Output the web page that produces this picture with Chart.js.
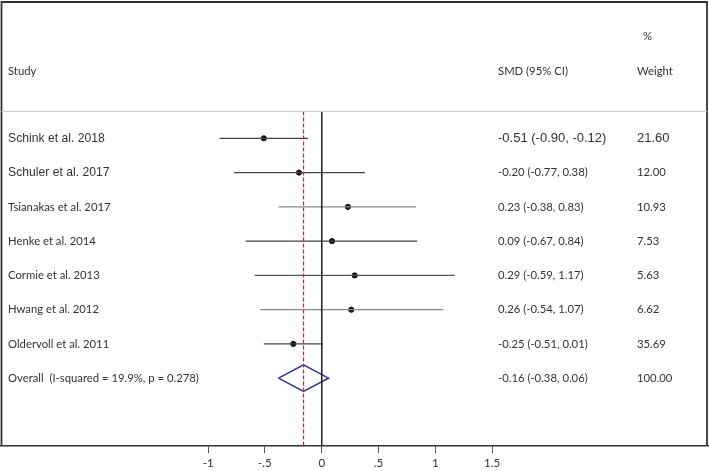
<!DOCTYPE html>
<html>
<head>
<meta charset="utf-8">
<script src="https://cdn.jsdelivr.net/npm/chart.js@4"></script>
<style>
  body { margin: 0; background: #fff; overflow: hidden; }
  canvas { display: block; }
</style>
</head>
<body>
<canvas id="forest" width="709" height="471"></canvas>
<script>
// ==================== DATA =====================
const studies = [
  "Schink et al. 2018",
  "Schuler et al. 2017",
  "Tsianakas et al. 2017",
  "Henke et al. 2014",
  "Cormie et al. 2013",
  "Hwang et al. 2012",
  "Oldervoll et al. 2011",
];
const smd = [-0.51, -0.2, 0.23, 0.09, 0.29, 0.26, -0.25];
const ciLow = [-0.9, -0.77, -0.38, -0.67, -0.59, -0.54, -0.51];
const ciHigh = [-0.12, 0.38, 0.83, 0.84, 1.17, 1.07, 0.01];
const weights = [21.6, 12.0, 10.93, 7.53, 5.63, 6.62, 35.69];

const overallLabel = "Overall  (I-squared = 19.9%, p = 0.278)";
const overallSmd = -0.16;
const overallLow = -0.38;
const overallHigh = 0.06;
const overallWeight = 100.0;

const xTicks = [-1, -0.5, 0, 0.5, 1, 1.5];

// ============== HELPERS ===============
const fmt = (v) => v.toFixed(2);
const ciText = (e, lo, hi) => `${fmt(e)} (${fmt(lo)}, ${fmt(hi)})`;
const tickText = (v) => (v === 0 ? "0" : String(v).replace("0.", "."));

const lineColors = ["#444", "#444", "#888", "#444", "#555", "#888", "#444"];
const calibri = "Lato, 'Open Sans', sans-serif";
const arial = "'Liberation Sans', Arial, sans-serif";

const overallRow = studies.length;
const headerRow = -0.785;
const bottomRow = 8.98;
const diamondHalf = 0.39;

// ============== DATASETS ===============
const datasets = [];

// vertical reference lines
datasets.push({
  data: [{ x: 0, y: headerRow }, { x: 0, y: bottomRow }],
  showLine: true, borderColor: "#222", borderWidth: 1, pointRadius: 0,
});
datasets.push({
  data: [{ x: overallSmd, y: headerRow }, { x: overallSmd, y: bottomRow }],
  showLine: true, borderColor: "#cc2a2a", borderWidth: 1.2, borderDash: [4, 2], pointRadius: 0,
});

// CI lines
studies.forEach((s, i) => {
  datasets.push({
    data: [{ x: ciLow[i], y: i }, { x: ciHigh[i], y: i }],
    showLine: true, borderColor: lineColors[i], borderWidth: 1.2, pointRadius: 0,
  });
});

// point estimates
datasets.push({
  data: smd.map((v, i) => ({ x: v, y: i })),
  pointRadius: 2.6, pointBackgroundColor: "#111", pointBorderColor: "#111", showLine: false,
});

// overall diamond
datasets.push({
  data: [
    { x: overallLow, y: overallRow },
    { x: overallSmd, y: overallRow - diamondHalf },
    { x: overallHigh, y: overallRow },
    { x: overallSmd, y: overallRow + diamondHalf },
    { x: overallLow, y: overallRow },
  ],
  showLine: true, borderColor: "#2e3192", borderWidth: 1.5, pointRadius: 0, tension: 0,
});

// ============== TEXT + FRAME PLUGIN ===============
const forestText = {
  id: "forestText",
  afterDraw(chart) {
    const ctx = chart.ctx;
    const ya = chart.scales.y;
    ctx.save();

    // frame round the whole figure (open at the bottom, where the axis line is)
    const bottom = chart.chartArea.bottom;
    const fl = 1.5;
    const ft = 2;
    const fr = chart.width - 2;
    ctx.strokeStyle = "#333";
    ctx.lineWidth = 1.8;
    ctx.beginPath();
    ctx.moveTo(fl, bottom);
    ctx.lineTo(fl, ft);
    ctx.lineTo(fr, ft);
    ctx.lineTo(fr, bottom);
    ctx.stroke();

    // header separator
    const hy = Math.round(ya.getPixelForValue(headerRow)) + 0.5;
    ctx.strokeStyle = "#c6c9da";
    ctx.lineWidth = 1;
    ctx.beginPath();
    ctx.moveTo(fl, hy);
    ctx.lineTo(fr, hy);
    ctx.stroke();

    ctx.textBaseline = "middle";
    ctx.fillStyle = "#333";
    const colStudy = 8;
    const colCi = 498;
    const colW = 637;

    // header
    ctx.font = `11.3px ${calibri}`;
    const headY = ya.getPixelForValue(-1.95);
    ctx.fillText("Study", colStudy, headY);
    ctx.fillText("SMD (95% CI)", colCi, headY);
    ctx.fillText("Weight", colW, headY);
    ctx.fillText("%", colW + 6, ya.getPixelForValue(-2.98));

    // rows
    studies.forEach((s, i) => {
      const y = ya.getPixelForValue(i);
      ctx.font = i < 2 ? `12.2px ${arial}` : `11.3px ${calibri}`;
      ctx.fillText(s, colStudy, y);
      ctx.font = i < 1 ? `13px ${arial}` : `11.3px ${calibri}`;
      ctx.fillText(ciText(smd[i], ciLow[i], ciHigh[i]), colCi, y);
      ctx.fillText(fmt(weights[i]), colW, y);
    });
    const oy = ya.getPixelForValue(overallRow);
    ctx.font = `11.3px ${calibri}`;
    ctx.fillText(overallLabel, colStudy, oy);
    ctx.fillText(ciText(overallSmd, overallLow, overallHigh), colCi, oy);
    ctx.fillText(fmt(overallWeight), colW, oy);

    ctx.restore();
  },
};

// ============== CHART ===============
new Chart(document.getElementById("forest"), {
  type: "scatter",
  data: { datasets },
  options: {
    responsive: false,
    animation: false,
    layout: { autoPadding: false, padding: { left: 1, right: 1, top: 3, bottom: 0 } },
    plugins: { legend: { display: false }, tooltip: { enabled: false } },
    scales: {
      x: {
        type: "linear",
        min: -2.823,
        max: 3.4,
        afterBuildTicks: (scale) => {
          scale.ticks = xTicks.map((v) => ({ value: v }));
        },
        afterFit: (scale) => {
          scale.height = 25;
        },
        grid: { drawOnChartArea: false, drawTicks: true, tickLength: 7, color: "#555" },
        border: { display: true, color: "#333", width: 1.5 },
        ticks: {
          autoSkip: false,
          maxRotation: 0,
          padding: 3,
          color: "#333",
          font: { size: 11.5, family: "Lato, 'Open Sans', sans-serif" },
          callback: (v) => tickText(v),
        },
      },
      y: {
        display: false,
        reverse: true,
        min: -3.95,
        max: 8.98,
      },
    },
  },
  plugins: [forestText],
});
</script>
</body>
</html>
